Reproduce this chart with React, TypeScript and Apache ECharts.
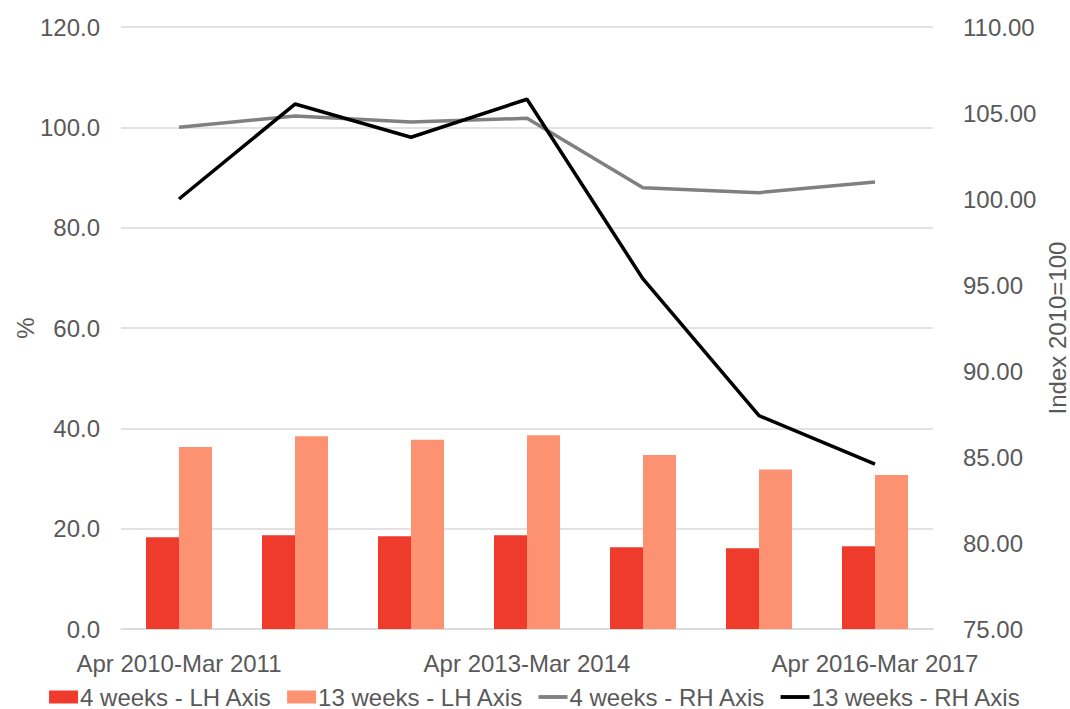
import React, { useEffect, useRef } from "react";
import * as echarts from "echarts";

const categories = [
  "Apr 2010-Mar 2011",
  "Apr 2011-Mar 2012",
  "Apr 2012-Mar 2013",
  "Apr 2013-Mar 2014",
  "Apr 2014-Mar 2015",
  "Apr 2015-Mar 2016",
  "Apr 2016-Mar 2017",
];
const weeks4LH = [18.3, 18.7, 18.5, 18.7, 16.3, 16.1, 16.5];
const weeks13LH = [36.3, 38.4, 37.7, 38.6, 34.7, 31.8, 30.7];
const weeks4RH = [104.17, 104.83, 104.48, 104.69, 100.66, 100.37, 100.99];
const weeks13RH = [100.0, 105.52, 103.59, 105.8, 95.35, 87.4, 84.58];

const FONT = "'Liberation Sans', Arial, sans-serif";
const TXT = "#595959";
const FS = 24;
const LINE_ICON = "path://M0,0h30v4h-30z";

export default function App() {
  const ref = useRef<HTMLDivElement>(null);
  useEffect(() => {
    if (!ref.current) return;
    const chart = echarts.init(ref.current, undefined, {
      renderer: "svg",
      width: 1070,
      height: 709,
    });
    chart.setOption({
      animation: false,
      backgroundColor: "#ffffff",
      textStyle: { fontFamily: FONT, color: TXT },
      grid: {
        left: 121,
        right: 137,
        top: 27,
        bottom: 80,
        containLabel: false,
        outerBoundsMode: "none",
      },
      legend: {
        bottom: 0,
        left: "center",
        padding: 0,
        itemWidth: 29,
        itemHeight: 13,
        itemGap: 15,
        textStyle: {
          fontFamily: FONT,
          fontSize: FS,
          lineHeight: 22,
          color: TXT,
          padding: [0, 0, 0, -3],
        },
        data: [
          { name: "4 weeks - LH Axis", icon: "rect" },
          { name: "13 weeks - LH Axis", icon: "rect" },
          { name: "4 weeks - RH Axis", icon: LINE_ICON },
          { name: "13 weeks - RH Axis", icon: LINE_ICON },
        ],
      },
      xAxis: {
        type: "category",
        data: categories,
        axisTick: { show: false },
        axisLine: { lineStyle: { color: "#d9d9d9", width: 1.5 } },
        axisLabel: {
          interval: 2,
          margin: 22,
          fontFamily: FONT,
          fontSize: FS,
          color: TXT,
        },
      },
      yAxis: [
        {
          type: "value",
          min: 0,
          max: 120,
          interval: 20,
          name: "%",
          nameLocation: "middle",
          nameGap: 84,
          nameMoveOverlap: false,
          nameTextStyle: { fontFamily: FONT, fontSize: FS, lineHeight: 24, color: TXT },
          axisLine: { show: false },
          axisTick: { show: false },
          splitLine: { lineStyle: { color: "#d9d9d9", width: 1.5 } },
          axisLabel: {
            margin: 21,
            fontFamily: FONT,
            fontSize: FS,
            color: TXT,
            formatter: (v: number) => v.toFixed(1),
          },
        },
        {
          type: "value",
          min: 75,
          max: 110,
          interval: 5,
          name: "Index 2010=100",
          nameLocation: "middle",
          nameGap: 112,
          nameMoveOverlap: false,
          nameTextStyle: { fontFamily: FONT, fontSize: FS, lineHeight: 24, color: TXT },
          axisLine: { show: false },
          axisTick: { show: false },
          splitLine: { show: false },
          axisLabel: {
            margin: 30,
            fontFamily: FONT,
            fontSize: FS,
            color: TXT,
            formatter: (v: number) => v.toFixed(2),
          },
        },
      ],
      series: [
        {
          name: "4 weeks - LH Axis",
          type: "bar",
          data: weeks4LH,
          barWidth: 33,
          barGap: "0%",
          itemStyle: { color: "#EF3B2C" },
        },
        {
          name: "13 weeks - LH Axis",
          type: "bar",
          data: weeks13LH,
          barWidth: 33,
          barGap: "0%",
          itemStyle: { color: "#FC9272" },
        },
        {
          name: "4 weeks - RH Axis",
          type: "line",
          yAxisIndex: 1,
          data: weeks4RH,
          symbol: "none",
          lineStyle: { color: "#808080", width: 3.5 },
          itemStyle: { color: "#808080" },
        },
        {
          name: "13 weeks - RH Axis",
          type: "line",
          yAxisIndex: 1,
          data: weeks13RH,
          symbol: "none",
          lineStyle: { color: "#000000", width: 3.5 },
          itemStyle: { color: "#000000" },
        },
      ],
    });
    return () => chart.dispose();
  }, []);
  return (
    <div
      ref={ref}
      style={{ position: "fixed", left: 0, top: 0, width: 1070, height: 709, background: "#fff" }}
    />
  );
}
